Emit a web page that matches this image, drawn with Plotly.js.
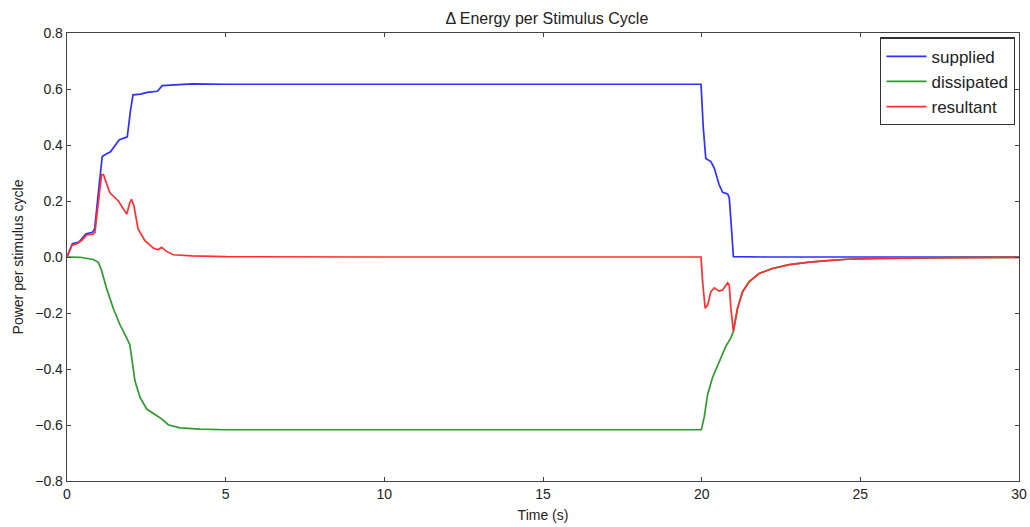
<!DOCTYPE html>
<html>
<head>
<meta charset="utf-8">
<script src="https://cdn.plot.ly/plotly-3.0.1.min.js"></script>
<style>html,body{margin:0;padding:0;background:#fff;}#chart{width:1030px;height:527px;}</style>
</head>
<body>
<div id="chart"></div>
<script>
const tSupplied = [0,0.17,0.38,0.59,0.8,0.87,1.01,1.11,1.22,1.37,1.64,1.8,1.9,2.0,2.08,2.32,2.53,2.85,3.0,3.4,3.95,5,10,15,19.98,20.05,20.13,20.29,20.4,20.55,20.66,20.82,20.87,20.92,21.0,22,25,30];
const supplied  = [0,0.047,0.053,0.082,0.088,0.1,0.253,0.359,0.367,0.376,0.418,0.426,0.429,0.523,0.579,0.582,0.588,0.592,0.612,0.615,0.618,0.617,0.617,0.617,0.617,0.463,0.352,0.341,0.317,0.258,0.231,0.225,0.211,0.134,0.001,0,0,0];

const tDissipated = [0,0.41,0.83,0.99,1.09,1.25,1.46,1.67,1.88,1.98,2.04,2.14,2.3,2.51,2.82,2.98,3.19,3.56,4.19,5,10,15,19.99,20.08,20.19,20.34,20.55,20.76,20.92,21.0,21.13,21.29,21.5,21.81,22.23,22.76,23.39,24.02,24.6,25.6,26.5,28,30];
const dissipated  = [0,-0.001,-0.009,-0.019,-0.048,-0.113,-0.184,-0.242,-0.289,-0.313,-0.36,-0.442,-0.501,-0.543,-0.566,-0.578,-0.599,-0.61,-0.615,-0.617,-0.617,-0.617,-0.617,-0.572,-0.49,-0.431,-0.372,-0.319,-0.289,-0.265,-0.183,-0.124,-0.088,-0.059,-0.041,-0.027,-0.018,-0.012,-0.008,-0.005,-0.003,-0.002,-0.001];

const tResultant = [0,0.15,0.3,0.46,0.62,0.83,0.88,0.99,1.09,1.15,1.25,1.35,1.62,1.83,1.88,1.98,2.03,2.11,2.24,2.45,2.72,2.87,2.98,3.14,3.35,3.95,5,10,15,19.98,20.03,20.11,20.19,20.29,20.4,20.55,20.66,20.82,20.87,20.92,21.0,21.13,21.29,21.5,21.81,22.23,22.76,23.39,24.02,24.6,25.6,26.5,28,30];
const resultant  = [0,0.041,0.047,0.059,0.079,0.082,0.088,0.206,0.294,0.294,0.259,0.229,0.2,0.159,0.153,0.194,0.206,0.182,0.1,0.059,0.032,0.026,0.035,0.02,0.008,0.004,0.001,0,0,0,-0.089,-0.183,-0.171,-0.124,-0.11,-0.122,-0.118,-0.092,-0.101,-0.183,-0.265,-0.183,-0.124,-0.088,-0.059,-0.041,-0.027,-0.018,-0.012,-0.008,-0.005,-0.003,-0.002,-0.001];

const xTicks = [0,5,10,15,20,25,30];
const yTicks = [-0.8,-0.6,-0.4,-0.2,0.0,0.2,0.4,0.6,0.8];
const yTickText = ['\u22120.8','\u22120.6','\u22120.4','\u22120.2','0.0','0.2','0.4','0.6','0.8'];

const FONT = 'Liberation Sans, Arial, sans-serif';
const traces = [
  {x:tSupplied, y:supplied, name:'supplied', mode:'lines', line:{color:'#2f2fff', width:1.7}},
  {x:tDissipated, y:dissipated, name:'dissipated', mode:'lines', line:{color:'#2f9a2f', width:1.7}},
  {x:tResultant, y:resultant, name:'resultant', mode:'lines', line:{color:'#ff2f2f', width:1.7}}
];

const axisCommon = {
  showline:true, linecolor:'#444', linewidth:1.3, mirror:'ticks',
  ticks:'inside', ticklen:4, tickcolor:'#444', showgrid:false, zeroline:false,
  tickfont:{family:FONT, size:14, color:'#222'}
};

const layout = {
  width:1030, height:527,
  margin:{l:67, r:11, t:33, b:46},
  paper_bgcolor:'#fff', plot_bgcolor:'#fff',
  title:{text:'\u0394 Energy per Stimulus Cycle', x:0.531, xanchor:'center', y:0.975, yanchor:'top',
         font:{family:FONT, size:16, color:'#222'}},
  xaxis:Object.assign({}, axisCommon, {range:[0,30], tickvals:xTicks, ticktext:xTicks.map(String),
         title:{text:'Time (s)', standoff:9, font:{family:FONT, size:14, color:'#222'}}}),
  yaxis:Object.assign({}, axisCommon, {range:[-0.8,0.8], tickvals:yTicks, ticktext:yTickText,
         title:{text:'Power per stimulus cycle', standoff:8, font:{family:FONT, size:14, color:'#222'}}}),
  showlegend:true,
  legend:{x:0.996, y:0.99, xanchor:'right', yanchor:'top', bordercolor:'#333', borderwidth:1.3, bgcolor:'#fff',
          font:{family:FONT, size:17, color:'#222'}, tracegroupgap:0, itemwidth:40}
};

Plotly.newPlot('chart', traces, layout, {displayModeBar:false, staticPlot:true});
</script>
</body>
</html>
